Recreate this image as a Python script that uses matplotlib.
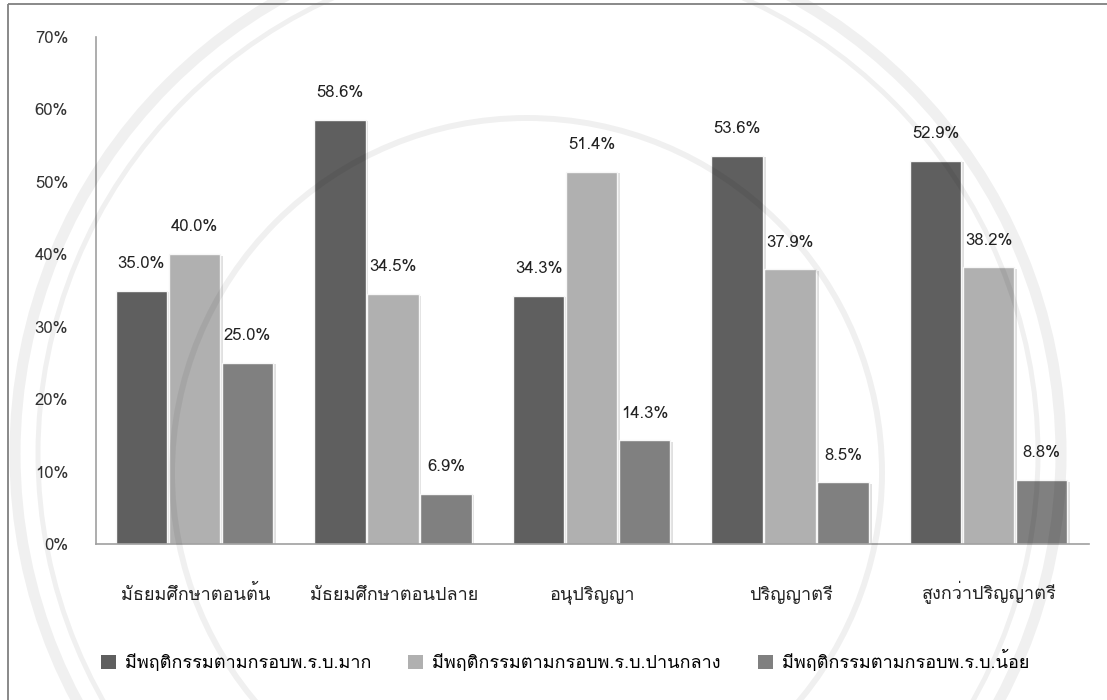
import numpy as np
import matplotlib
matplotlib.use("Agg")
import matplotlib.pyplot as plt
import matplotlib.patheffects as pe
from matplotlib.patches import Circle, Rectangle

# ระดับการศึกษา
categories = ['มัธยมศึกษาตอนต้น', 'มัธยมศึกษาตอนปลาย', 'อนุปริญญา', 'ปริญญาตรี', 'สูงกว่าปริญญาตรี']
series_names = ['มีพฤติกรรมตามกรอบพ.ร.บ.มาก', 'มีพฤติกรรมตามกรอบพ.ร.บ.ปานกลาง', 'มีพฤติกรรมตามกรอบพ.ร.บ.น้อย']
high = [35.0, 58.6, 34.3, 53.6, 52.9]
medium = [40.0, 34.5, 51.4, 37.9, 38.2]
low = [25.0, 6.9, 14.3, 8.5, 8.8]
y_ticks = [0, 10, 20, 30, 40, 50, 60, 70]

colors = ['#5f5f5f', '#b0b0b0', '#808080']

W, H = 1107, 700
plt.rcParams['font.family'] = ['Loma', 'DejaVu Sans']

fig = plt.figure(figsize=(W / 100, H / 100), dpi=100)

ax = fig.add_axes([96 / W, 1 - 544 / H, 993 / W, 507 / H], zorder=1)
ax.patch.set_alpha(0)

x = np.arange(len(categories))
step = 53 / 198.6
width = 51.5 / 198.6
shadow = [pe.SimplePatchShadow(offset=(2, -1), shadow_rgbFace='#000000', alpha=0.12), pe.Normal()]
for i, vals in enumerate([high, medium, low]):
    pos = x + (i - 1) * step - 0.005
    bars = ax.bar(pos, vals, width, color=colors[i], edgecolor='#f7f7f7', linewidth=1, label=series_names[i])
    for b in bars:
        b.set_path_effects(shadow)
    for xp, v in zip(pos, vals):
        ax.text(xp, v + 3.7, f'{v:.1f}%', ha='center', va='center', fontsize=12, color='#222222')

ax.set_xlim(-0.5, len(categories) - 0.5)
ax.set_ylim(0, 70)
ax.set_yticks(y_ticks)
ax.set_yticklabels([f'{t}%' for t in y_ticks], fontsize=12, color='#333333')
ax.set_xticks(x)
ax.set_xticklabels(categories, fontsize=13, color='#222222', va='baseline')
ax.tick_params(axis='both', length=0)
ax.tick_params(axis='y', pad=20)
ax.tick_params(axis='x', pad=40)
for s in ['top', 'right']:
    ax.spines[s].set_visible(False)
for s in ['left', 'bottom']:
    ax.spines[s].set_color('#a0a0a0')
    ax.spines[s].set_linewidth(1.2)

leg = fig.legend(loc='lower left', bbox_to_anchor=(101 / W, 1 - 672 / H), ncol=3, frameon=False, fontsize=13,
                 handlelength=0.83, handleheight=0.83, handletextpad=0.5, columnspacing=2.05, borderpad=0, borderaxespad=0)
for h in leg.legend_handles:
    h.set_path_effects([])
    h.set_edgecolor('none')

# ลายน้ำ ทับบนกราฟ
wm = fig.add_axes([0, 0, 1, 1], zorder=2)
wm.set_xlim(0, W)
wm.set_ylim(H, 0)
wm.axis('off')
for cx, cy, r, lw in [(538, 454, 523, 8), (538, 454, 500, 3.6), (527, 473, 355, 4.3)]:
    wm.add_patch(Circle((cx, cy), r, fill=False, ec=(0, 0, 0, 0.06), lw=lw))
wm.add_patch(Rectangle((8, 4), W, H, fill=False, ec='#808080', lw=1.3))

fig.savefig('out.png', dpi=100)
